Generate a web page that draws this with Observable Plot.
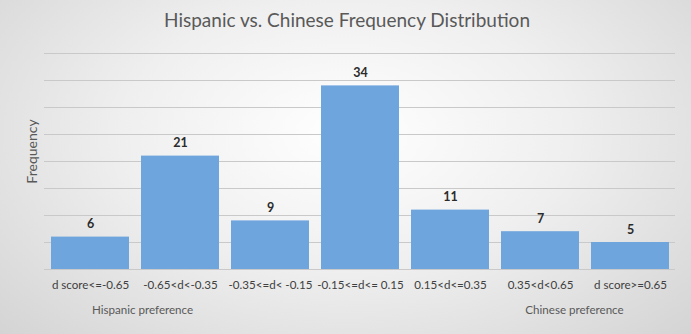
<!DOCTYPE html>
<html>
<head>
<meta charset="utf-8">
<script src="https://cdn.jsdelivr.net/npm/d3@7"></script>
<script src="https://cdn.jsdelivr.net/npm/@observablehq/plot@0.6"></script>
<style>
  html, body { margin: 0; padding: 0; }
  #chart {
    width: 691px; height: 334px; position: relative; overflow: hidden;
    background: radial-gradient(ellipse 72% 90% at 50% 40%, #ffffff 0%, #efefef 45%, #d2d2d2 100%);
  }
  #chart svg { position: absolute; left: 0; top: 0; }
</style>
</head>
<body>
<div id="chart"></div>
<script>
const categories = ["d score<=-0.65", "-0.65<d<-0.35", "-0.35<=d< -0.15", "-0.15<=d<= 0.15", "0.15<d<=0.35", "0.35<d<0.65", "d score>=0.65"];
const frequencies = [6, 21, 9, 34, 11, 7, 5];
const gridTicks = [0, 5, 10, 15, 20, 25, 30, 35, 40];
const titleText = "Hispanic vs. Chinese Frequency Distribution";
const yLabel = "Frequency";
const leftNote = {category: "d score<=-0.65", note: "Hispanic preference"};
const rightNote = {category: "d score>=0.65", note: "Chinese preference"};

const data = categories.map((c, i) => ({category: c, value: frequencies[i]}));
const font = "Lato, 'Open Sans', sans-serif";

const plot = Plot.plot({
  width: 691,
  height: 334,
  marginLeft: 44,
  marginRight: 16,
  marginTop: 53,
  marginBottom: 65,
  style: {background: "transparent", fontFamily: font, overflow: "visible"},
  x: {domain: categories, paddingInner: 0.135, paddingOuter: 0.0675, label: null},
  y: {domain: [0, 40], label: null, axis: null},
  marks: [
    Plot.ruleY(gridTicks, {stroke: "#c9c9c9", strokeWidth: 1}),
    Plot.barY(data, {x: "category", y: "value", fill: "#6ea5dc"}),
    Plot.text(data, {x: "category", y: "value", text: d => String(d.value), dy: -13, fontWeight: "bold", fontSize: 12.5, fill: "#2b2b2b"}),
    Plot.axisX({tickSize: 0, tickPadding: 11, fontSize: 11.6, color: "#404040", label: null}),
    Plot.text([yLabel], {frameAnchor: "left", textAnchor: "middle", lineAnchor: "middle", rotate: -90, dx: -12, dy: -10, fontSize: 14, fill: "#595959"}),
    Plot.text([leftNote], {x: "category", text: "note", frameAnchor: "bottom", lineAnchor: "middle", dy: 41, dx: 52, fontSize: 11.6, fill: "#595959"}),
    Plot.text([rightNote], {x: "category", text: "note", frameAnchor: "bottom", lineAnchor: "middle", dy: 41, dx: -56, fontSize: 11.6, fill: "#595959"}),
    Plot.text([titleText], {frameAnchor: "top", lineAnchor: "middle", dy: -33, dx: -13, fontSize: 19, fill: "#595959"})
  ]
});

document.getElementById("chart").appendChild(plot);
</script>
</body>
</html>
